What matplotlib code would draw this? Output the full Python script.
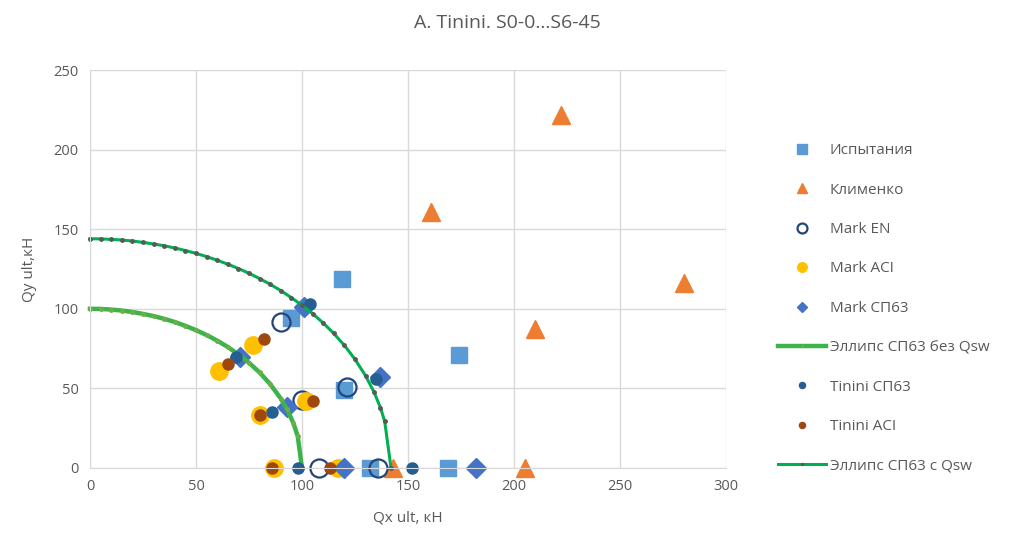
import numpy as np
import matplotlib
matplotlib.use('Agg')
import matplotlib.pyplot as plt

plt.rcParams['font.family'] = ['Open Sans', 'DejaVu Sans']

# data (Qx, Qy in kN)
isp_x = [119, 95, 120, 132, 169, 174]
isp_y = [119, 94, 49, 0, 0, 71]

klim_x = [222, 161, 280, 210, 143, 205]
klim_y = [222, 161, 116, 87, 0, 0]

en_x = [90, 100, 121, 108, 136]
en_y = [92, 43, 51, 0, 0]

aci_x = [77, 61, 80, 102, 87, 117]
aci_y = [77, 61, 33, 42, 0, 0]

sp_x = [101, 71, 93, 137, 120, 182]
sp_y = [101, 70, 38, 57, 0, 0]

tsp_x = [104, 69, 86, 135, 98, 152]
tsp_y = [103, 70, 35, 56, 0, 0]

taci_x = [82, 65, 80, 105, 86, 113]
taci_y = [81, 65, 33, 42, 0, 0]

# ellipse without Qsw
el1_x = [0, 5, 10, 15, 20, 25, 30, 35, 40, 45, 50, 55, 60, 65, 70, 75, 80, 85, 90, 93, 96, 98, 100]
el1_y = [100, 99.9, 99.5, 98.9, 98.0, 96.8, 95.4, 93.7, 91.7, 89.3, 86.6, 83.5, 80.0, 76.0, 71.4,
         66.1, 60.0, 52.7, 43.6, 36.8, 28.0, 19.9, 0]

# ellipse with Qsw
el2_x = [0, 5, 10, 15, 20, 25, 30, 35, 40, 45, 50, 55, 60, 65, 70, 75, 80, 85, 90, 95, 100,
         105, 110, 115, 120, 125, 130, 134, 137, 139, 142]
el2_y = [144, 143.9, 143.6, 143.2, 142.6, 141.7, 140.7, 139.6, 138.2, 136.6, 134.8, 132.8, 130.5,
         128.0, 125.3, 122.3, 119.0, 115.4, 111.4, 107.0, 102.2, 97.0, 91.1, 84.5, 77.0, 68.3,
         57.9, 47.6, 37.9, 29.4, 0]

fig = plt.figure(figsize=(10.21, 5.41), dpi=100)
ax = fig.add_axes([0.0881, 0.135, 0.6230, 0.7356])

kw = dict(ls='none', clip_on=False)
ax.plot(isp_x, isp_y, marker='s', ms=12, color='#5B9BD5', label='Испытания', **kw)
ax.plot(klim_x, klim_y, marker='^', ms=13, color='#ED7D31', label='Клименко', **kw)
ax.plot(en_x, en_y, marker='o', ms=13, mfc='none', mec='#264478', mew=1.6,
        label='Mark EN', **kw)
ax.plot(aci_x, aci_y, marker='o', ms=12.5, color='#FFC000', label='Mark ACI', **kw)
ax.plot(sp_x, sp_y, marker='D', ms=10, color='#4472C4', label='Mark СП63', **kw)
ax.plot(el1_x, el1_y, color='#3CB44B', lw=3.2, marker='o', ms=2.5, mfc='#70AD47', mec='#70AD47',
        label='Эллипс СП63 без Qsw', clip_on=False)
ax.plot(tsp_x, tsp_y, marker='o', ms=8, color='#255E91', label='Tinini СП63', **kw)
ax.plot(taci_x, taci_y, marker='o', ms=8, color='#9E480E', label='Tinini ACI', **kw)
ax.plot(el2_x, el2_y, color='#00B050', lw=2.2, marker='o', ms=2.5, mfc='#595959', mec='#595959',
        label='Эллипс СП63 с Qsw', clip_on=False)

ax.set_xlim(0, 300)
ax.set_ylim(0, 250)
ax.set_xticks(np.arange(0, 301, 50))
ax.set_yticks(np.arange(0, 251, 50))
ax.grid(True, color='#D9D9D9', lw=1)
ax.set_axisbelow(True)
for s in ['top', 'right']:
    ax.spines[s].set_visible(False)
for s in ['left', 'bottom']:
    ax.spines[s].set_color('#D9D9D9')
ax.tick_params(length=0, labelsize=10.5, colors='#595959', pad=8)
ax.set_xlabel('Qx ult, кН', fontsize=11, color='#595959', labelpad=12)
ax.set_ylabel('Qy ult,кН', fontsize=11, color='#595959', labelpad=12)

fig.suptitle('A. Tinini. S0-0...S6-45', x=0.497, y=0.975, fontsize=14, color='#595959')

fig.legend(loc='center left', bbox_to_anchor=(0.755, 0.43), frameon=False, fontsize=11,
           labelspacing=1.6, handlelength=3.1, handletextpad=0.25, borderpad=0,
           labelcolor='#595959', markerscale=0.55)

fig.savefig('out.png', dpi=100)
